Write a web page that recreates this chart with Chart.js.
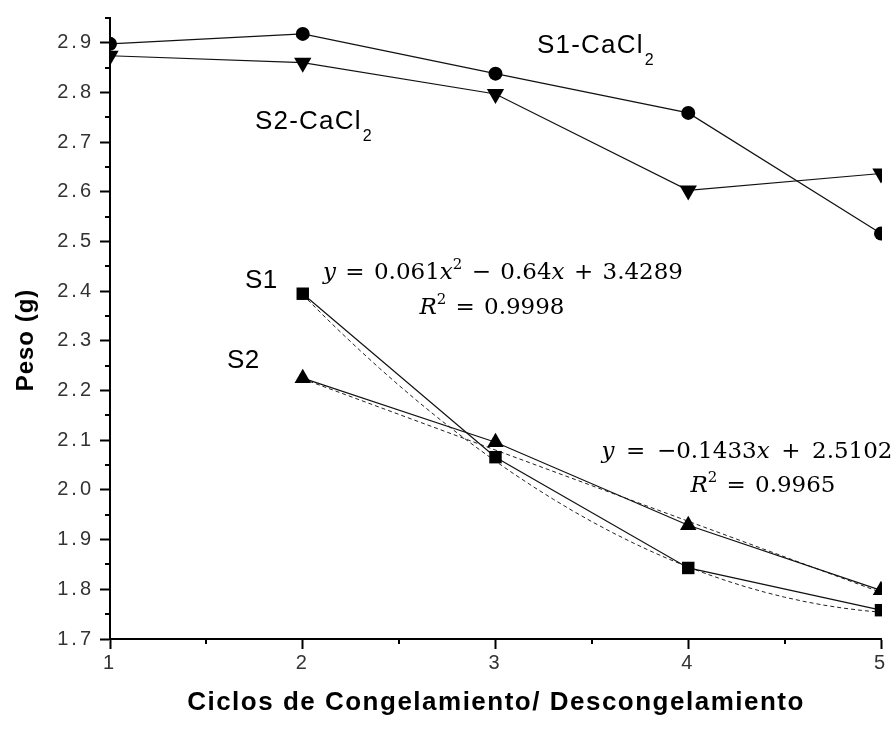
<!DOCTYPE html>
<html>
<head>
<meta charset="utf-8">
<script src="https://cdn.jsdelivr.net/npm/chart.js@4/dist/chart.umd.min.js"></script>
<style>
  html, body { margin: 0; padding: 0; background: #fff; }
  #wrap { width: 896px; height: 731px; position: relative; }
</style>
</head>
<body>
<div id="wrap"><canvas id="c" width="896" height="731"></canvas></div>
<script>
// Freeze/thaw cycles on the x axis
const cycles = [1, 2, 3, 4, 5];
// Sample weight (g) per cycle
const s1CaCl2 = [2.898, 2.918, 2.838, 2.759, 2.516];
const s2CaCl2 = [2.874, 2.860, 2.797, 2.603, 2.637];
const s1 = [null, 2.395, 2.066, 1.843, 1.758];
const s2 = [null, 2.225, 2.096, 1.929, 1.798];
// Fitted trend lines over cycles 2..5
const s1FitCoef = [0.061, -0.64, 3.4289];   // a x^2 + b x + c
const s2FitCoef = [-0.1433, 2.5102];        // m x + k
const fitRange = [2, 5];
// Axis ticks
const yMajorTicks = [1.7, 1.8, 1.9, 2.0, 2.1, 2.2, 2.3, 2.4, 2.5, 2.6, 2.7, 2.8, 2.9];
const yMinorTicks = [1.75, 1.85, 1.95, 2.05, 2.15, 2.25, 2.35, 2.45, 2.55, 2.65, 2.75, 2.85, 2.95];
const xMinorTicks = [1.5, 2.5, 3.5, 4.5];

const toPoints = (ys) => cycles.map((x, i) => ({ x, y: ys[i] })).filter(p => p.y !== null);

// Trend curves evaluated from their equations
const quadFit = [];
for (let k = 0; k <= 30; k++) {
  const x = fitRange[0] + (fitRange[1] - fitRange[0]) * k / 30;
  quadFit.push({ x, y: s1FitCoef[0] * x * x + s1FitCoef[1] * x + s1FitCoef[2] });
}
const linFit = fitRange.map(x => ({ x, y: s2FitCoef[0] * x + s2FitCoef[1] }));

const lineStyle = { borderColor: '#111', borderWidth: 1.2, backgroundColor: '#000',
  pointBorderColor: '#000', pointBackgroundColor: '#000', pointBorderWidth: 0,
  clip: { left: 1, right: 1, top: false, bottom: false } };
const dashStyle = { borderColor: '#222', borderWidth: 1, borderDash: [4, 3], pointRadius: 0,
  clip: { left: 1, right: 1, top: false, bottom: false } };

const minorTicks = {
  id: 'minorTicks',
  beforeDraw(chart) {
    chart.ctx.letterSpacing = '3px';
  },
  afterDraw(chart) {
    const ctx = chart.ctx;
    const xs = chart.scales.x, ys = chart.scales.y;
    const a = chart.chartArea;
    ctx.save();
    ctx.strokeStyle = '#000';
    ctx.lineWidth = 2;
    ctx.beginPath();
    yMinorTicks.forEach(v => {
      const py = Math.round(ys.getPixelForValue(v));
      ctx.moveTo(a.left - 5, py); ctx.lineTo(a.left, py);
    });
    xMinorTicks.forEach(v => {
      const px = Math.round(xs.getPixelForValue(v));
      ctx.moveTo(px, a.bottom); ctx.lineTo(px, a.bottom + 5);
    });
    ctx.stroke();
    ctx.restore();
  }
};

// Text run helpers for labels and equations
function drawSubLabel(ctx, main, sub, x, baseline) {
  ctx.font = '26px "Liberation Sans", Arial, sans-serif';
  ctx.letterSpacing = '1.2px';
  ctx.fillText(main, x, baseline);
  const w = ctx.measureText(main).width;
  ctx.font = '16px "Liberation Sans", Arial, sans-serif';
  ctx.letterSpacing = '0px';
  ctx.fillText(sub, x + w + 1, baseline + 12);
}

const MATH = '"DejaVu Serif", "Liberation Serif", serif';
const G = { gap: true };
const it = t => ({ t, font: `italic 23px ${MATH}`, dy: 0 });
const up = t => ({ t, font: `23px ${MATH}`, dy: 0 });
const sup = t => ({ t, font: `15px ${MATH}`, dy: -10 });

function drawMath(ctx, parts, cx, baseline, targetW) {
  ctx.letterSpacing = '0px';
  let natural = 0, gaps = 0;
  parts.forEach(p => {
    if (p.gap) { gaps++; return; }
    ctx.font = p.font; natural += ctx.measureText(p.t).width;
  });
  const gw = gaps ? Math.max(3, (targetW - natural) / gaps) : 0;
  const total = natural + gw * gaps;
  let x = cx - total / 2;
  parts.forEach(p => {
    if (p.gap) { x += gw; return; }
    ctx.font = p.font;
    ctx.fillText(p.t, x, baseline + p.dy);
    x += ctx.measureText(p.t).width;
  });
}

const annotations = {
  id: 'annotations',
  afterDraw(chart) {
    const ctx = chart.ctx;
    ctx.save();
    ctx.fillStyle = '#000';
    ctx.textAlign = 'left';
    ctx.textBaseline = 'alphabetic';

    drawSubLabel(ctx, 'S1-CaCl', '2', 537, 53);
    drawSubLabel(ctx, 'S2-CaCl', '2', 255, 129);

    ctx.font = '26px "Liberation Sans", Arial, sans-serif';
    ctx.letterSpacing = '0.5px';
    ctx.fillText('S1', 245, 288);
    ctx.fillText('S2', 227, 368);

    drawMath(ctx, [it('y'), G, up('='), G, up('0.061'), it('x'), sup('2'), G, up('\u2212'), G,
      up('0.64'), it('x'), G, up('+'), G, up('3.4289')], 503, 279, 360);
    drawMath(ctx, [it('R'), sup('2'), G, up('='), G, up('0.9998')], 492, 314, 145);
    drawMath(ctx, [it('y'), G, up('='), G, up('\u22120.1433'), it('x'), G, up('+'), G,
      up('2.5102')], 747, 458, 291);
    drawMath(ctx, [it('R'), sup('2'), G, up('='), G, up('0.9965')], 763, 492, 145);

    // Axis titles
    ctx.font = 'bold 26px "Liberation Sans", Arial, sans-serif';
    ctx.letterSpacing = '1.5px';
    ctx.textAlign = 'center';
    ctx.fillText('Ciclos de Congelamiento/ Descongelamiento', 496, 710);

    ctx.translate(26, 340);
    ctx.rotate(-Math.PI / 2);
    ctx.font = 'bold 24px "Liberation Sans", Arial, sans-serif';
    ctx.letterSpacing = '1px';
    ctx.textBaseline = 'middle';
    ctx.fillText('Peso (g)', 0, 0);
    ctx.restore();
  }
};

new Chart(document.getElementById('c'), {
  type: 'line',
  data: {
    datasets: [
      { label: 'S1-CaCl2', data: toPoints(s1CaCl2), pointStyle: 'circle', pointRadius: 7, ...lineStyle },
      { label: 'S2-CaCl2', data: toPoints(s2CaCl2), pointStyle: 'triangle', rotation: 180, pointRadius: 10, ...lineStyle },
      { label: 'S1', data: toPoints(s1), pointStyle: 'rect', pointRadius: 8.8, ...lineStyle },
      { label: 'S2', data: toPoints(s2), pointStyle: 'triangle', pointRadius: 9.5, ...lineStyle },
      { label: 'S1 ajuste', data: quadFit, ...dashStyle },
      { label: 'S2 ajuste', data: linFit, ...dashStyle }
    ]
  },
  options: {
    responsive: false,
    animation: false,
    devicePixelRatio: 1,
    layout: { padding: { top: 16, right: 15, left: 0, bottom: 0 } },
    plugins: { legend: { display: false }, tooltip: { enabled: false } },
    elements: { line: { tension: 0 } },
    scales: {
      x: {
        type: 'linear', min: 1, max: 5,
        afterFit(s) { s.height = 92; },
        afterBuildTicks(s) { s.ticks = cycles.map(v => ({ value: v })); },
        grid: { drawOnChartArea: false, drawTicks: true, tickLength: 10, tickWidth: 2, tickColor: '#000' },
        border: { display: true, color: '#000', width: 2 },
        ticks: { color: '#333', padding: 2, maxRotation: 0,
          font: { family: '"Liberation Sans", Arial, sans-serif', size: 20 },
          callback: v => String(v) }
      },
      y: {
        type: 'linear', min: 1.7, max: 2.95,
        afterFit(s) { s.width = 110; },
        afterBuildTicks(s) { s.ticks = yMajorTicks.map(v => ({ value: v })); },
        grid: { drawOnChartArea: false, drawTicks: true, tickLength: 10, tickWidth: 2, tickColor: '#000' },
        border: { display: true, color: '#000', width: 2 },
        ticks: { color: '#333', padding: 6,
          font: { family: '"Liberation Sans", Arial, sans-serif', size: 20 },
          callback: v => Number(v).toFixed(1) }
      }
    }
  },
  plugins: [minorTicks, annotations]
});
</script>
</body>
</html>
